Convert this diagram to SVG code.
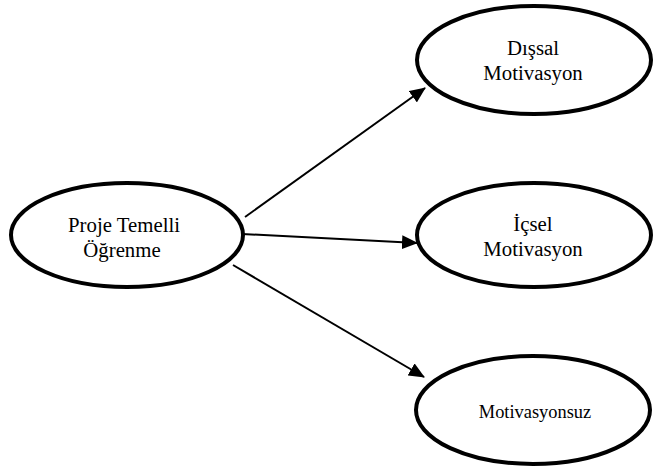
<svg xmlns="http://www.w3.org/2000/svg" width="653" height="471" viewBox="0 0 653 471">
<style>
.node ellipse{fill:#fff;stroke:#000;stroke-width:4}
.lbl{font-family:"Liberation Serif","Times New Roman",serif;font-size:20.8px;fill:#000;text-anchor:middle}
.sm{font-size:18.4px}
.conn line{stroke:#000;stroke-width:2;fill:none}
</style>
<defs>
<marker id="ah" markerUnits="userSpaceOnUse" markerWidth="16" markerHeight="14" viewBox="0 0 16 14" refX="15" refY="7" orient="auto">
<path d="M0,0 L16,7 L0,14 Z" fill="#000"/>
</marker>
</defs>
<rect width="653" height="471" fill="#fff"/>
<g id="connectors" class="conn">
<line x1="245" y1="217" x2="425" y2="88" marker-end="url(#ah)"/>
<line x1="242" y1="234" x2="417" y2="243" marker-end="url(#ah)"/>
<line x1="233" y1="265" x2="424" y2="377" marker-end="url(#ah)"/>
</g>
<g id="proje" class="node">
<ellipse cx="127" cy="235" rx="116" ry="52"/>
<text class="lbl" x="124" y="232">Proje Temelli</text>
<text class="lbl" x="122" y="257">Öğrenme</text>
</g>
<g id="dissal" class="node">
<ellipse cx="534" cy="60" rx="117" ry="54"/>
<text class="lbl" x="533" y="55">Dışsal</text>
<text class="lbl" x="533" y="80">Motivasyon</text>
</g>
<g id="icsel" class="node">
<ellipse cx="534" cy="235" rx="117" ry="52"/>
<text class="lbl" x="533" y="231">İçsel</text>
<text class="lbl" x="533" y="256">Motivasyon</text>
</g>
<g id="motivasyonsuz" class="node">
<ellipse cx="533" cy="410" rx="117" ry="54"/>
<text class="lbl sm" x="535" y="418">Motivasyonsuz</text>
</g>
</svg>
